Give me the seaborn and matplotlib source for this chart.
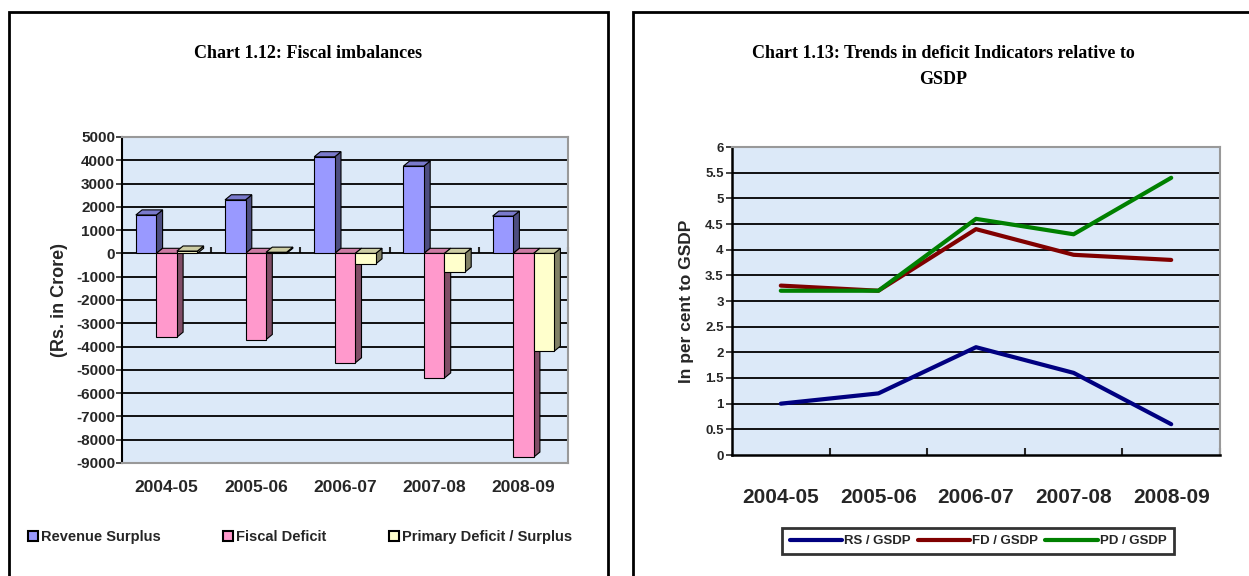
import numpy as np
import pandas as pd
import seaborn as sns
import matplotlib.pyplot as plt
from matplotlib.patches import Rectangle, Polygon, Patch
from matplotlib.lines import Line2D

# data
years = ["2004-05", "2005-06", "2006-07", "2007-08", "2008-09"]
revenue_surplus = [1650, 2300, 4150, 3750, 1600]
fiscal_deficit = [-3600, -3700, -4700, -5350, -8750]
primary_deficit = [100, 50, -450, -800, -4200]

rs_gsdp = [1.0, 1.2, 2.1, 1.6, 0.6]
fd_gsdp = [3.3, 3.2, 4.4, 3.9, 3.8]
pd_gsdp = [3.2, 3.2, 4.6, 4.3, 5.4]

bar_names = ["Revenue Surplus", "Fiscal Deficit", "Primary Deficit / Surplus"]
bar_colors = ["#9999FF", "#FF99CC", "#FFFFCC"]
line_names = ["RS / GSDP", "FD / GSDP", "PD / GSDP"]
line_colors = ["#000080", "#800000", "#008000"]

sns.set_style("white")
plt.rcParams["font.family"] = ["Liberation Sans", "DejaVu Sans"]
plt.rcParams["font.weight"] = "bold"
plt.rcParams["axes.unicode_minus"] = False

W, H = 1249, 576
fig = plt.figure(figsize=(W / 100, H / 100), dpi=100)

def px_axes(x0, y0, x1, y1):
    return fig.add_axes([x0 / W, 1 - y1 / H, (x1 - x0) / W, (y1 - y0) / H])

# outer frames
fig.add_artist(Rectangle((9 / W, -0.05), 599 / W, 1.05 - 12 / H, transform=fig.transFigure,
                         fill=False, lw=2, ec="black"))
fig.add_artist(Rectangle((633 / W, -0.05), 700 / W, 1.05 - 12 / H, transform=fig.transFigure,
                         fill=False, lw=2, ec="black"))

bg = "#dce9f8"

# ---- Chart 1.12 ----
ax1 = px_axes(122, 137, 568, 463)
ax1.set_facecolor(bg)
df_bar = pd.DataFrame({
    "year": years * 3,
    "value": revenue_surplus + fiscal_deficit + primary_deficit,
    "series": [bar_names[0]] * 5 + [bar_names[1]] * 5 + [bar_names[2]] * 5,
})
sns.barplot(data=df_bar, x="year", y="value", hue="series", palette=bar_colors,
            width=0.69, gap=0, saturation=1, edgecolor="black", linewidth=0.8, ax=ax1,
            legend=False, zorder=3)

# fake 3D depth on each bar
dx, dy = 0.07, 220
for p in list(ax1.patches):
    x, y = p.get_x(), p.get_y()
    w, h = p.get_width(), p.get_height()
    top = max(y, y + h)
    bot = min(y, y + h)
    fc = np.array(p.get_facecolor()[:3])
    side = Polygon([(x + w, bot), (x + w + dx, bot + dy), (x + w + dx, top + dy), (x + w, top)],
                   closed=True, fc=fc * 0.5, ec="black", lw=0.8, zorder=2.9)
    cap = Polygon([(x, top), (x + dx, top + dy), (x + w + dx, top + dy), (x + w, top)],
                  closed=True, fc=fc * 0.8, ec="black", lw=0.8, zorder=2.9)
    ax1.add_patch(side)
    ax1.add_patch(cap)

ax1.set_ylim(-9000, 5000)
ax1.set_xlim(-0.5, 4.5)
ax1.set_yticks(range(-9000, 5001, 1000))
ax1.tick_params(axis="y", labelsize=11, length=4, width=1.2, direction="out", left=True, pad=1)
ax1.tick_params(axis="x", labelsize=12.5, length=0, pad=12)
for v in range(-8000, 5000, 1000):
    ax1.axhline(v, color="black", lw=1.3, zorder=1)
ax1.set_xlabel("")
ax1.set_ylabel("(Rs. in Crore)", fontsize=13, fontweight="bold", labelpad=6)
for s in ["top", "right", "bottom"]:
    ax1.spines[s].set_color("#999999")
    ax1.spines[s].set_linewidth(1.5)
ax1.spines["left"].set_color("black")
ax1.spines["left"].set_linewidth(1.5)
zero_axis = ax1.secondary_xaxis(9000 / 14000)
zero_axis.set_xticks([0.5, 1.5, 2.5, 3.5, 4.5])
zero_axis.tick_params(labelbottom=False, labeltop=False, length=4, width=1.5, direction="out")
zero_axis.spines["bottom"].set_linewidth(1.8)
zero_axis.spines["top"].set_visible(False)
for lbl in ax1.get_xticklabels() + ax1.get_yticklabels():
    lbl.set_fontweight("bold")

fig.text(308 / W, 1 - 53 / H, "Chart 1.12: Fiscal imbalances", ha="center", va="center",
         family="Liberation Serif", fontsize=13, fontweight="bold", color="black")

handles = [Patch(fc=c, ec="black", lw=1.5) for c in bar_colors]
fig.legend(handles, bar_names, loc="center", bbox_to_anchor=(300 / W, 1 - 537 / H),
           ncol=3, frameon=False, handlelength=0.7, handleheight=0.7,
           handletextpad=0.2, columnspacing=4.3, prop={"weight": "bold", "size": 10.5})

# ---- Chart 1.13 ----
ax2 = px_axes(732, 147, 1220, 455)
ax2.set_facecolor(bg)
df_line = pd.DataFrame({
    "year": years * 3,
    "value": rs_gsdp + fd_gsdp + pd_gsdp,
    "series": [line_names[0]] * 5 + [line_names[1]] * 5 + [line_names[2]] * 5,
})
sns.lineplot(data=df_line, x="year", y="value", hue="series", palette=line_colors,
             linewidth=3, ax=ax2, legend=False, zorder=3, sort=False)
ax2.set_ylim(0, 6)
ax2.set_xlim(-0.5, 4.5)
ax2.set_yticks(np.arange(0, 6.01, 0.5))
ax2.set_yticklabels(["0", "0.5", "1", "1.5", "2", "2.5", "3", "3.5", "4", "4.5", "5", "5.5", "6"])
for v in np.arange(0.5, 6, 0.5):
    ax2.axhline(v, color="black", lw=1.3, zorder=1)
ax2.tick_params(axis="y", labelsize=9.5, length=4, width=1.2, direction="out", left=True, pad=2)
ax2.tick_params(axis="x", labelsize=15, length=0, pad=24)
ax2.set_xticks([0.5, 1.5, 2.5, 3.5, 4.5], minor=True)
ax2.tick_params(axis="x", which="minor", length=5, width=1.5, direction="in", bottom=True)
ax2.set_xlabel("")
ax2.set_ylabel("In per cent to GSDP", fontsize=12.5, fontweight="bold", labelpad=8)
for s in ["top", "right"]:
    ax2.spines[s].set_color("#999999")
    ax2.spines[s].set_linewidth(1.5)
for s in ["left", "bottom"]:
    ax2.spines[s].set_color("black")
    ax2.spines[s].set_linewidth(1.8)
for lbl in ax2.get_xticklabels() + ax2.get_yticklabels():
    lbl.set_fontweight("bold")

fig.text(943 / W, 1 - 53 / H, "Chart 1.13: Trends in deficit Indicators relative to",
         ha="center", va="center", family="Liberation Serif", fontsize=13, fontweight="bold",
         color="black")
fig.text(943 / W, 1 - 80 / H, "GSDP", ha="center", va="center",
         family="Liberation Serif", fontsize=13, fontweight="bold", color="black")

line_handles = [Line2D([], [], color=c, lw=3) for c in line_colors]
leg = fig.legend(line_handles, line_names, loc="center", bbox_to_anchor=(978 / W, 1 - 541 / H),
                 ncol=3, frameon=True, fancybox=False, handlelength=4.0, handletextpad=0.15,
                 columnspacing=0.5, borderpad=0.55, prop={"weight": "bold", "size": 9.5})
leg.get_frame().set_edgecolor("black")
leg.get_frame().set_linewidth(2)

fig.savefig("out.png", dpi=100)
